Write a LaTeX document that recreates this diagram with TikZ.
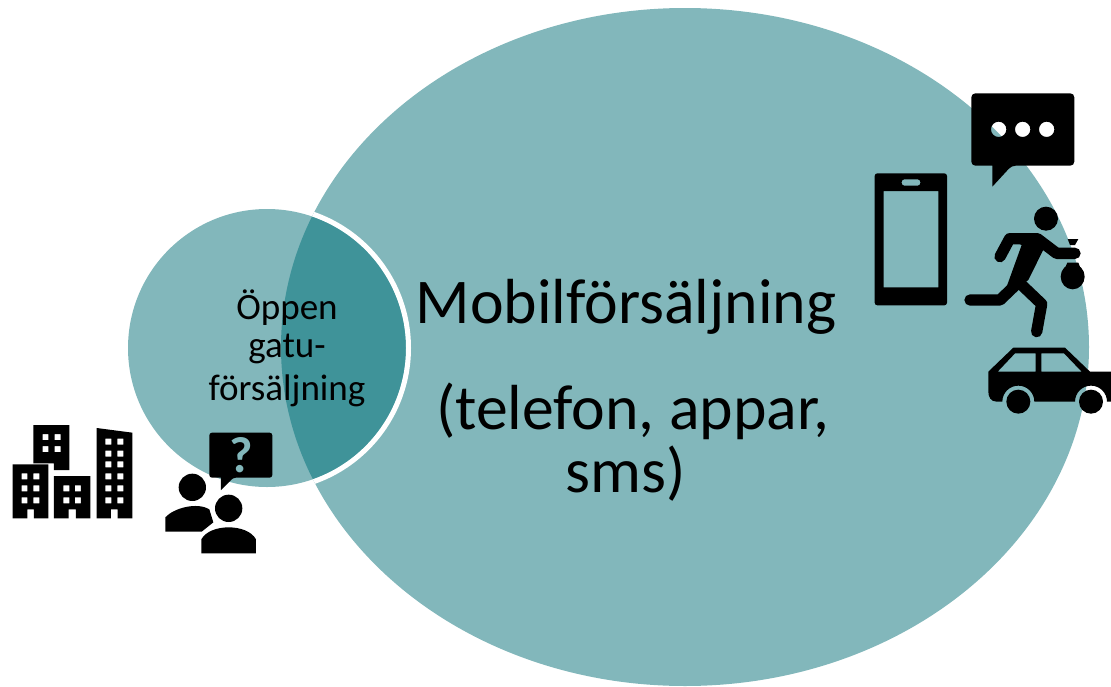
\documentclass[tikz,border=0pt]{standalone}
\usepackage{fontspec}
\setmainfont{Carlito}
\definecolor{tealbase}{HTML}{82B7BB}
\definecolor{tealdark}{HTML}{3F9399}
\tikzset{
  bigtext/.style={inner sep=0pt,font=\fontsize{47.8}{47.8}\selectfont},
  smalltext/.style={inner sep=0pt,font=\fontsize{27.8}{27.8}\selectfont},
  icon/.style={fill=black,even odd rule},
  limb/.style={draw=black,line cap=round,line join=round,line width=8.5pt},
}
\begin{document}
\begin{tikzpicture}[x=0.75pt,yscale=-1,y=0.75pt]
\useasboundingbox (0,0) rectangle (1111,686);
\fill[tealbase] (685,347) ellipse [x radius=404,y radius=339];
\fill[tealbase] (267,348) circle [radius=139];
\begin{scope}
\clip (685,347) ellipse [x radius=404,y radius=339];
\fill[tealdark] (267,348) circle [radius=139];
\draw[white,line width=3.75pt] (267,348) circle [radius=141.5];
\end{scope}
\node[bigtext] (mobil) at (626,307) {Mobilförsäljning};
\node[bigtext] (telefon) at (633,411) {(telefon, appar,};
\node[bigtext] (sms) at (626,474) {sms)};
\node[smalltext] (oppen) at (287,308) {Öppen};
\node[smalltext] (gatu) at (287,349) {gatu-};
\node[smalltext] (forsalj) at (287,391) {försäljning};
% right icons
\begin{scope}[shift={(860,80)},scale=1/3]
\fill[icon] [rounded corners=3pt] (334,40) -- (643,40) -- (643,257) -- (455,257) [sharp corners] -- (397,320) -- (397,257) [rounded corners=3pt] -- (334,257) -- cycle
  (416,148) circle [radius=23] (488,148) circle [radius=23] (560,148) circle [radius=23];
\fill[icon] [rounded corners=2pt] (44,280) rectangle (261,676)
  [sharp corners] (71,333) rectangle (235,622)
  [rounded corners=2pt] (125,298) rectangle (181,317);
\fill (558,416) circle [radius=36];
\draw[limb] (420,530) -- (449,476) -- (532,476) -- (590,520) -- (645,520);
\draw[limb] (470,612) -- (420,660) -- (330,660);
\draw[limb] (480,610) -- (545,672) -- (530,755);
\fill (445,476) -- (540,476) -- (552,505) -- (505,600) -- (470,625) -- (440,620) -- (485,495) -- cycle;
\fill (622,548) -- (655,548) -- (672,590) -- (604,590) -- cycle;
\fill (638,590) ellipse [x radius=36,y radius=38];
\fill (623,477) -- (655,477) -- (645,495) -- (630,495) -- cycle;
\fill[icon] (385,875) -- (460,803) -- (615,803) -- (690,875) -- (753,875) -- (753,965) -- (741,965)
  arc (0:-180:48) -- (523,965) arc (0:-180:48) -- (410,965)
  .. controls (392,965) and (385,950) .. (385,935) -- cycle
  (413,875) -- (465,820) -- (527,820) -- (527,875) -- cycle
  (544,875) -- (544,820) -- (612,820) -- (665,875) -- cycle;
\fill (475,965) circle [radius=36];
\fill (693,965) circle [radius=36];
\end{scope}
% left icons
\begin{scope}[shift={(0,410)},scale=1/3]
\fill[icon] (100,45) -- (208,45) -- (208,180) -- (162,180) -- (162,160) -- (100,160) -- cycle
  (128,72) rectangle (145,90) (164,72) rectangle (182,90)
  (128,108) rectangle (145,126) (164,108) rectangle (182,126);
\fill[icon] (38,163) -- (145,163) -- (145,325) -- (102,325) -- (102,298) -- (82,298) -- (82,325) -- (38,325) -- cycle
  (65,190) rectangle (82,208) (100,190) rectangle (118,208)
  (65,226) rectangle (82,244) (100,226) rectangle (118,244)
  (65,262) rectangle (82,280) (100,262) rectangle (118,280);
\fill[icon] (162,198) -- (271,198) -- (271,325) -- (228,325) -- (228,298) -- (206,298) -- (206,325) -- (162,325) -- cycle
  (190,226) rectangle (208,244) (225,226) rectangle (243,244)
  (190,262) rectangle (208,280) (225,262) rectangle (243,280);
\fill[icon] (290,54) -- (397,68) -- (397,325) -- (353,325) -- (353,298) -- (333,298) -- (333,325) -- (290,325) -- cycle
  (316,86) rectangle (334,104) (352,86) rectangle (370,104)
  (316,122) rectangle (334,140) (352,122) rectangle (370,140)
  (316,154) rectangle (334,172) (352,154) rectangle (370,172)
  (316,190) rectangle (334,208) (352,190) rectangle (370,208)
  (316,226) rectangle (334,244) (352,226) rectangle (370,244)
  (316,262) rectangle (334,280) (352,262) rectangle (370,280);
\fill (577,232) circle [radius=41];
\fill (496,365) -- (496,322) .. controls (520,295) and (590,275) .. (628,298) -- (640,337) -- (605,365) -- cycle;
\fill (686,295) circle [radius=41];
\fill (604,430) -- (604,388) .. controls (630,340) and (742,340) .. (768,388) -- (768,430) -- cycle;
\fill [rounded corners=2pt] (628,68) -- (817,68) -- (817,203) -- (700,203) [sharp corners] -- (663,240) -- (663,203) [rounded corners=2pt] -- (628,203) -- cycle;
\end{scope}
\node[inner sep=0pt,text=tealbase,font=\fontsize{38}{38}\selectfont\bfseries] (quest) at (241,455) {?};
\end{tikzpicture}
\end{document}
